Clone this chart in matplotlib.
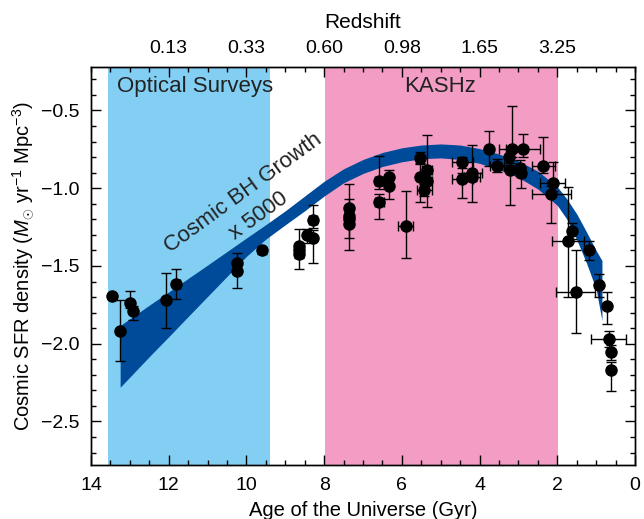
import numpy as np
import matplotlib.pyplot as plt
from matplotlib.ticker import MultipleLocator, FixedLocator

plt.rcParams['font.family'] = ['Liberation Sans', 'DejaVu Sans']
plt.rcParams['mathtext.fontset'] = 'custom'
plt.rcParams['mathtext.rm'] = 'Liberation Sans'
plt.rcParams['mathtext.it'] = 'Liberation Sans:italic'

# star formation rate density points (age in Gyr, log SFRD)
age = [13.47, 13.25, 13.00, 12.93, 12.08, 11.80, 10.25, 10.25, 9.61,
       8.64, 8.64, 8.64, 8.45, 8.28, 8.28, 7.35, 7.35, 7.35, 7.35,
       6.58, 6.58, 6.34, 6.34, 5.90, 5.53, 5.53, 5.35, 5.35, 5.42,
       4.44, 4.44, 4.20, 4.20, 3.76, 3.56, 3.17, 3.24, 3.22, 2.88,
       2.96, 2.94, 2.36, 2.12, 2.15, 1.63, 1.73, 1.19, 1.53, 0.93,
       0.73, 0.67, 0.63, 0.62]
sfrd = [-1.69, -1.92, -1.74, -1.79, -1.72, -1.615, -1.48, -1.53, -1.40,
        -1.37, -1.40, -1.42, -1.30, -1.205, -1.32, -1.125, -1.18, -1.20, -1.23,
        -0.955, -1.09, -0.93, -0.985, -1.24, -0.805, -0.93, -0.885, -0.955, -1.01,
        -0.83, -0.94, -0.905, -0.93, -0.75, -0.855, -0.75, -0.80, -0.885, -0.75,
        -0.87, -0.905, -0.855, -0.965, -1.035, -1.275, -1.34, -1.40, -1.665, -1.625,
        -1.76, -1.97, -2.055, -2.17]
age_err = [0, 0, 0, 0, 0, 0.1, 0, 0, 0,
           0, 0, 0, 0.05, 0.1, 0, 0, 0, 0, 0,
           0.12, 0.12, 0, 0, 0.19, 0, 0.08, 0.12, 0.12, 0.2,
           0.26, 0.26, 0.26, 0.2, 0, 0.18, 0.34, 0, 0, 0.44,
           0.1, 0.1, 0.3, 0.33, 0.5, 0, 0.41, 0, 0.51, 0,
           0, 0.45, 0, 0]
sfrd_lo = [0, 0.19, 0.03, 0.06, 0.18, 0.095, 0.05, 0.11, 0.025,
           0.05, 0.05, 0.10, 0.05, 0.05, 0.16, 0.05, 0.05, 0.12, 0.17,
           0.05, 0.11, 0.04, 0.085, 0.21, 0.04, 0.16, 0.05, 0.165, 0.04,
           0.04, 0.12, 0.05, 0.16, 0.11, 0.04, 0.05, 0.05, 0.225, 0.05,
           0.05, 0.095, 0.05, 0.05, 0.19, 0.05, 0.36, 0.06, 0.265, 0.075,
           0.11, 0.05, 0.05, 0.135]
sfrd_hi = [0, 0.20, 0.08, 0.03, 0.175, 0.095, 0.065, 0.05, 0.025,
           0.11, 0.05, 0.05, 0.04, 0.095, 0.05, 0.155, 0.11, 0.05, 0.05,
           0.165, 0.05, 0.045, 0.04, 0.22, 0.035, 0.09, 0.23, 0.05, 0.04,
           0.03, 0.04, 0.185, 0.05, 0.12, 0.04, 0.28, 0.05, 0.05, 0.10,
           0.05, 0.04, 0.185, 0.135, 0.05, 0.05, 0.35, 0.06, 0.265, 0.075,
           0.095, 0.05, 0.05, 0.05]

# black hole growth band (scaled x 5000)
bh_age = [13.25, 12.5, 12.0, 11.5, 11.0, 10.5, 10.0, 9.5, 9.0, 8.5, 8.0, 7.5,
          7.0, 6.5, 6.0, 5.5, 5.0, 4.5, 4.0, 3.5, 3.0, 2.5, 2.0, 1.75, 1.5,
          1.25, 1.0, 0.85]
bh_upper = [-1.883, -1.752, -1.667, -1.58, -1.494, -1.407, -1.32, -1.234, -1.145, -1.05, -0.955, -0.875,
            -0.815, -0.77, -0.74, -0.722, -0.715, -0.722, -0.745, -0.78, -0.825, -0.89, -0.99, -1.07, -1.165,
            -1.28, -1.40, -1.465]
bh_lower = [-2.28, -2.083, -1.955, -1.825, -1.696, -1.567, -1.438, -1.327, -1.235, -1.145, -1.05, -0.965,
            -0.905, -0.86, -0.83, -0.81, -0.805, -0.815, -0.84, -0.88, -0.93, -1.005, -1.11, -1.20, -1.33,
            -1.48, -1.65, -1.85]

z_ticks = [12, 10, 8, 6, 4, 2]
z_labels = ['0.13', '0.33', '0.60', '0.98', '1.65', '3.25']

fig = plt.figure(figsize=(6.44, 5.19), dpi=100)
ax = fig.add_axes([0.1413, 0.104, 0.8447, 0.767])

ax.axvspan(13.55, 9.4, color='#83cff4', lw=0, zorder=0)
ax.axvspan(7.97, 1.98, color='#f39dc5', lw=0, zorder=0)

ax.fill_between(bh_age, bh_lower, bh_upper, color='#004a9a', lw=0, zorder=1)

ax.errorbar(age, sfrd, yerr=[sfrd_lo, sfrd_hi], fmt='o', color='black',
            ms=8, elinewidth=1, capsize=3.5, capthick=1, zorder=3)
xa = [a for a, e in zip(age, age_err) if e > 0]
xs = [s for s, e in zip(sfrd, age_err) if e > 0]
xe = [e for e in age_err if e > 0]
ax.errorbar(xa, xs, xerr=xe, fmt='none', ecolor='black',
            elinewidth=1, capsize=3.5, capthick=1, zorder=3)

ax.text(11.32, -0.345, 'Optical Surveys', fontsize=16, ha='center', va='center', color='#222222')
ax.text(5.02, -0.345, 'KASHz', fontsize=16, ha='center', va='center', color='#222222')
ax.text(10.09, -1.03, 'Cosmic BH Growth', fontsize=16, rotation=36, ha='center',
        va='center', rotation_mode='anchor', color='#222222')
ax.text(9.69, -1.18, 'x 5000', fontsize=16, rotation=36, ha='center',
        va='center', rotation_mode='anchor', color='#222222')

ax.set_xlim(14, 0)
ax.set_ylim(-2.78, -0.22)
ax.xaxis.set_major_locator(MultipleLocator(2))
ax.xaxis.set_minor_locator(MultipleLocator(0.5))
ax.yaxis.set_minor_locator(MultipleLocator(0.1))
ax.set_yticks([-0.5, -1.0, -1.5, -2.0, -2.5])
ax.set_yticklabels(['\u22120.5', '\u22121.0', '\u22121.5', '\u22122.0', '\u22122.5'])
ax.tick_params(which='both', direction='in', top=False, right=True, labelsize=14)
ax.tick_params(which='major', length=7, width=1)
ax.tick_params(which='minor', length=3.5, width=1)
ax.tick_params(axis='x', pad=8.5)
ax.tick_params(axis='y', pad=8)
ax.set_xlabel('Age of the Universe (Gyr)', fontsize=14.5, labelpad=5)
ax.set_ylabel(r'Cosmic SFR density ($M_{\odot}$ yr$^{-1}$ Mpc$^{-3}$)', fontsize=14.5, labelpad=4)

ax2 = ax.twiny()
ax2.set_xlim(ax.get_xlim())
ax2.xaxis.set_major_locator(FixedLocator(z_ticks))
ax2.set_xticklabels(z_labels)
ax2.xaxis.set_minor_locator(MultipleLocator(0.5))
ax2.tick_params(which='both', direction='in', labelsize=14, pad=7)
ax2.tick_params(which='major', length=7, width=1)
ax2.tick_params(which='minor', length=3.5, width=1)
ax2.set_xlabel('Redshift', fontsize=15, labelpad=9)

for a in (ax, ax2):
    for sp in a.spines.values():
        sp.set_linewidth(1)

fig.savefig('out.png', dpi=100)
